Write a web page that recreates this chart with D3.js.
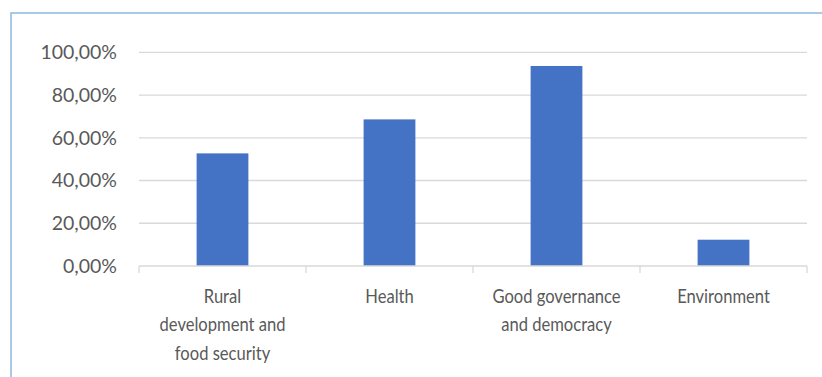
<!DOCTYPE html>
<html>
<head>
<meta charset="utf-8">
<script src="https://cdn.jsdelivr.net/npm/d3@7"></script>
<style>
  html, body { margin: 0; padding: 0; background: #fff; }
  svg { display: block; }
  text { font-family: Lato, "Open Sans", sans-serif; fill: #595959; }
</style>
</head>
<body>
<svg id="chart" width="822" height="377"></svg>
<script>
const categories = ["Rural development and food security", "Health", "Good governance and democracy", "Environment"];
const categoryLines = [["Rural", "development and", "food security"], ["Health"], ["Good governance", "and democracy"], ["Environment"]];
const values = [0.527, 0.686, 0.936, 0.123];
const yTicks = [0, 0.2, 0.4, 0.6, 0.8, 1.0];
const yTickLabels = ["0,00%", "20,00%", "40,00%", "60,00%", "80,00%", "100,00%"];

const svg = d3.select("#chart");

// outer border
svg.append("rect")
  .attr("x", 11).attr("y", 13)
  .attr("width", 830).attr("height", 380)
  .attr("fill", "none")
  .attr("stroke", "#8fb8e2")
  .attr("stroke-width", 1.5);

const plot = { left: 139, right: 807, top: 52.3, bottom: 266 };

const x = d3.scaleBand()
  .domain(categories)
  .range([plot.left, plot.right])
  .paddingInner(0.69)
  .paddingOuter(0.345);

const y = d3.scaleLinear()
  .domain([0, 1])
  .range([plot.bottom, plot.top]);

// gridlines
svg.append("g")
  .selectAll("line")
  .data(yTicks.filter(d => d > 0))
  .join("line")
  .attr("x1", plot.left).attr("x2", plot.right)
  .attr("y1", d => y(d)).attr("y2", d => y(d))
  .attr("stroke", "#d9d9d9")
  .attr("stroke-width", 1.3);

// y labels
svg.append("g")
  .selectAll("text")
  .data(yTicks)
  .join("text")
  .attr("x", 117)
  .attr("y", d => y(d))
  .attr("dy", "0.35em")
  .attr("text-anchor", "end")
  .style("font-size", "19.5px")
  .text((d, i) => yTickLabels[i]);

// bars
svg.append("g")
  .selectAll("rect")
  .data(values)
  .join("rect")
  .attr("x", (d, i) => x(categories[i]))
  .attr("y", d => y(d))
  .attr("width", x.bandwidth())
  .attr("height", d => y(0) - y(d))
  .attr("fill", "#4472c4");

// x axis baseline
svg.append("line")
  .attr("x1", plot.left).attr("x2", plot.right)
  .attr("y1", plot.bottom).attr("y2", plot.bottom)
  .attr("stroke", "#d9d9d9").attr("stroke-width", 1.3);

// category boundary ticks
const boundaries = categories.map(c => x(c) - x.step() * x.paddingInner() / 2);
boundaries.push(plot.right);
svg.append("g")
  .selectAll("line")
  .data(boundaries)
  .join("line")
  .attr("x1", d => d).attr("x2", d => d)
  .attr("y1", plot.bottom).attr("y2", plot.bottom + 7)
  .attr("stroke", "#d9d9d9").attr("stroke-width", 1.3);

// category labels (slightly condensed to mimic Calibri proportions)
const lab = svg.append("g");
categories.forEach((c, i) => {
  const cx = x(c) + x.bandwidth() / 2;
  const t = lab.append("text")
    .attr("transform", `translate(${cx},0) scale(0.85,1)`)
    .attr("text-anchor", "middle")
    .style("font-size", "19.5px");
  categoryLines[i].forEach((line, j) => {
    t.append("tspan")
      .attr("x", 0)
      .attr("y", 296 + j * 28.5)
      .attr("dy", "0.35em")
      .text(line);
  });
});
</script>
</body>
</html>
